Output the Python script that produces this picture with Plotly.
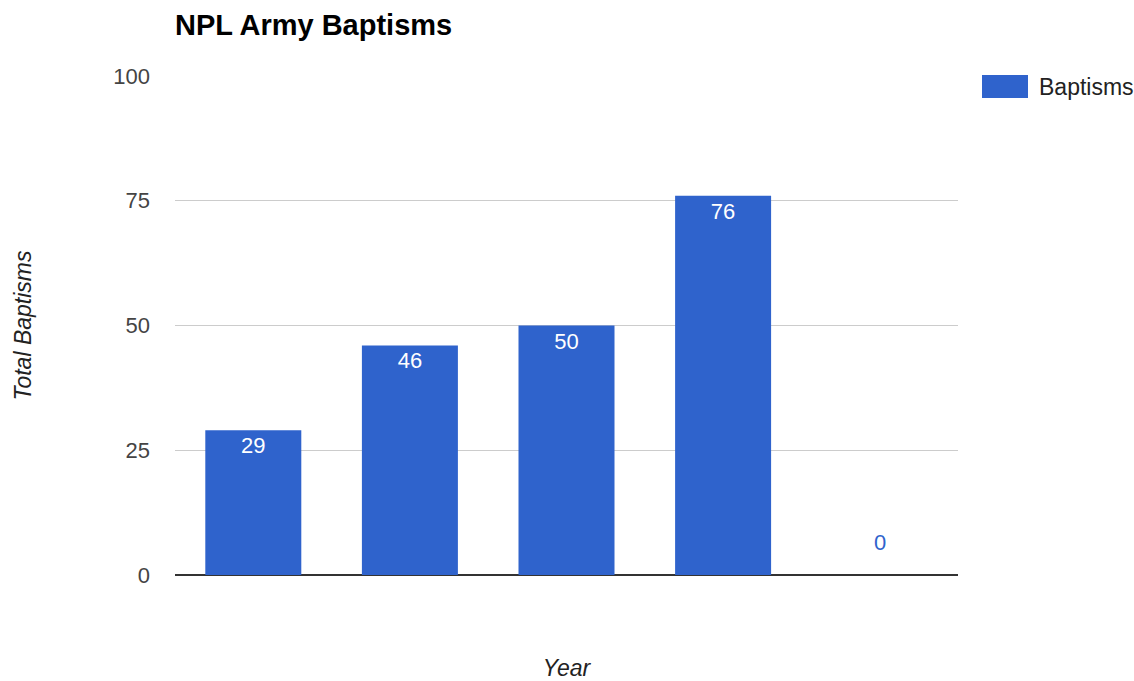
import plotly.graph_objects as go

categories = ["2014", "2015", "2016", "2017", "2018"]
baptisms = [29, 46, 50, 76, 0]
y_ticks = [0, 25, 50, 75, 100]
series_name = "Baptisms"

BLUE = "#2F63CC"
FONT = "Liberation Sans, Arial, sans-serif"

fig = go.Figure()
fig.add_trace(go.Bar(
    x=categories, y=baptisms, name=series_name,
    marker=dict(color=BLUE, line=dict(width=0)),
    text=[str(v) if v > 0 else "" for v in baptisms],
    textposition="inside",
    insidetextanchor="end",
    textfont=dict(color="white", size=22, family=FONT),
    showlegend=False,
))

# labels for zero-height bars (drawn above the axis); x is the category index
for i, v in enumerate(baptisms):
    if v == 0:
        fig.add_annotation(x=i, y=v, xref="x", yref="y", text=str(v), showarrow=False,
                           yanchor="middle", yshift=33,
                           font=dict(color=BLUE, size=22, family=FONT))

# legend (swatch + label), drawn at Google-chart style size
fig.add_shape(type="rect", xref="paper", yref="paper",
              x0=(982 - 175) / 783, x1=(1028 - 175) / 783,
              y0=1 - (98 - 76) / 499, y1=1 + (76 - 75) / 499,
              fillcolor=BLUE, line=dict(width=0))
fig.add_annotation(xref="paper", yref="paper", x=(1037 - 175) / 783,
                   y=1 - (87 - 76) / 499, xanchor="left", yanchor="middle",
                   text=series_name, showarrow=False,
                   font=dict(size=23, color="#222222", family=FONT))

fig.update_layout(
    width=1134, height=681,
    margin=dict(l=175, r=176, t=76, b=106, autoexpand=False),
    paper_bgcolor="white", plot_bgcolor="white",
    font=dict(family=FONT, color="#444444", size=22),
    bargap=0.387,
    title=dict(text="<b>NPL Army Baptisms</b>", x=175/1134, xanchor="left",
               y=1-25/681, yanchor="middle",
               font=dict(size=29, color="black", family=FONT)),
    showlegend=False,
    xaxis=dict(type="category", categoryorder="array", categoryarray=categories,
               range=[-0.5, len(categories) - 0.5],
               showticklabels=False, ticks="", showgrid=False,
               showline=False, zeroline=False,
               title=dict(text="Year", font=dict(size=23, style="italic", color="#222222"),
                          standoff=90)),
    yaxis=dict(range=[0, 100], tickvals=y_ticks, ticks="", showgrid=True,
               gridcolor="#cccccc", gridwidth=1, zeroline=True, zerolinecolor="#333333",
               zerolinewidth=2, showline=False, ticklabelstandoff=24,
               tickfont=dict(size=22, color="#444444"),
               title=dict(text="Total Baptisms", font=dict(size=23, style="italic", color="#222222"),
                          standoff=75)),
)

fig.write_html("out.html")
